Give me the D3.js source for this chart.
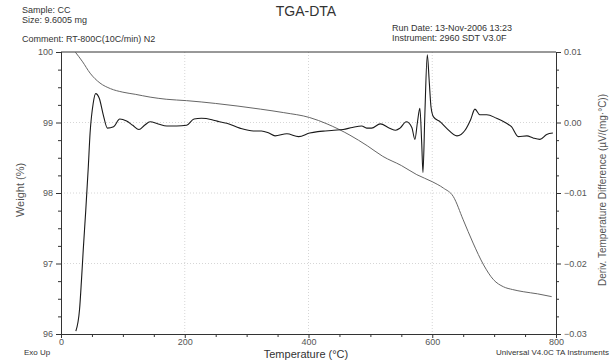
<!DOCTYPE html>
<html>
<head>
<meta charset="utf-8">
<script src="https://cdn.jsdelivr.net/npm/d3@7"></script>
<style>
  body { margin: 0; background: #fff; }
  text { font-family: "Liberation Sans", Arial, sans-serif; fill: #333; }
</style>
</head>
<body>
<div id="chart"></div>
<script>
// TGA weight curve (temperature in C, weight in %)
var weightTemp = [23, 35, 47, 63, 80, 100, 120, 144, 170, 203, 250, 322, 360, 402, 430, 467, 495, 520, 550, 575, 600, 618, 634, 650, 666, 683, 699, 715, 730, 747, 770, 793];
var weightPct = [100, 99.86, 99.70, 99.56, 99.48, 99.43, 99.40, 99.36, 99.33, 99.31, 99.27, 99.19, 99.14, 99.07, 98.98, 98.82, 98.67, 98.52, 98.39, 98.26, 98.16, 98.07, 97.95, 97.62, 97.29, 96.98, 96.77, 96.67, 96.63, 96.60, 96.57, 96.53];

// Deriv. temperature difference curve
var derivTemp = [24, 30, 33, 36, 40, 44, 47, 52, 56, 62, 68, 75, 85, 95, 106, 116, 126, 135, 144, 157, 171, 187, 203, 215, 227, 244, 256, 268, 289, 311, 324, 336, 346, 365, 384, 402, 415, 427, 441, 456, 471, 486, 494, 502, 516, 531, 541, 548, 558, 567, 572, 576, 580, 583, 585, 588, 592, 595, 598, 602, 613, 623, 640, 653, 662, 669, 677, 688, 704, 720, 728, 739, 753, 763, 774, 785, 795];
var derivVal = [-0.0296, -0.0265, -0.0225, -0.0180, -0.0125, -0.0065, -0.0015, 0.0027, 0.0041, 0.0034, 0.0012, -0.0008, -0.0006, 0.0005, 0.0002, -0.0004, -0.0010, -0.0004, 0.0001, -0.0002, -0.0005, -0.0005, -0.0004, 0.0005, 0.0006, 0.0004, 0.0001, -0.0001, -0.0008, -0.0012, -0.0012, -0.0015, -0.0019, -0.0016, -0.0020, -0.0015, -0.0013, -0.0012, -0.0011, -0.0010, -0.0007, -0.0005, -0.0008, -0.0008, -0.0002, -0.0008, -0.0011, -0.0008, 0.0001, -0.0007, -0.0024, 0.0000, 0.0020, -0.0030, -0.0071, 0.0010, 0.0096, 0.0060, 0.0022, 0.0008, 0.0001, -0.0008, -0.0019, -0.0011, 0.0004, 0.0019, 0.0011, 0.0011, 0.0006, -0.0001, -0.0006, -0.0020, -0.0019, -0.0022, -0.0024, -0.0017, -0.0015];

var tempTicks = [0, 200, 400, 600, 800];
var weightTicks = [96, 97, 98, 99, 100];
var derivTicks = [-0.03, -0.02, -0.01, 0.00, 0.01];

(function () {
  var width = 613,
    height = 360;
  var plotL = 61, plotR = 556, plotT = 52, plotB = 334;

  var svg = d3.select("#chart")
    .append("svg")
    .attr("width", width)
    .attr("height", height);

  var x = d3.scaleLinear().domain([0, 800]).range([plotL, plotR]);
  var yW = d3.scaleLinear().domain([96, 100]).range([plotB, plotT]);
  var yD = d3.scaleLinear().domain([-0.03, 0.01]).range([plotB, plotT]);

  // grid lines
  svg.selectAll(".vgrid")
    .data(tempTicks.slice(1, -1))
    .enter().append("line")
    .attr("x1", function (d) { return x(d); })
    .attr("x2", function (d) { return x(d); })
    .attr("y1", plotT).attr("y2", plotB)
    .attr("stroke", "#ccc").attr("stroke-dasharray", "1,2").attr("stroke-width", 0.8);

  svg.selectAll(".hgrid")
    .data(weightTicks.slice(1, -1))
    .enter().append("line")
    .attr("x1", plotL).attr("x2", plotR)
    .attr("y1", function (d) { return yW(d); })
    .attr("y2", function (d) { return yW(d); })
    .attr("stroke", "#ccc").attr("stroke-dasharray", "1,2").attr("stroke-width", 0.8);

  // top frame
  svg.append("line")
    .attr("x1", plotL).attr("x2", plotR).attr("y1", plotT).attr("y2", plotT)
    .attr("stroke", "#333").attr("stroke-width", 1);

  function styleAxis(g) {
    g.select(".domain").attr("stroke", "#333");
    g.selectAll("line").attr("stroke", "#333");
    g.selectAll("text").attr("font-size", "9px").style("fill", "#555");
  }

  function minorAxis(axis, scale, vals) {
    return axis(scale).tickValues(vals).tickSize(3).tickFormat("");
  }

  var tempMinor = d3.range(0, 801, 50).filter(function (d) { return d % 200 !== 0; });
  var wMinor = d3.range(96, 100.01, 0.25).filter(function (d) { return Math.abs(d - Math.round(d)) > 0.01; });
  var dMinor = d3.range(-0.03, 0.0101, 0.0025).filter(function (d) { return Math.abs(d * 100 - Math.round(d * 100)) > 0.01; });

  svg.append("g").attr("transform", "translate(0," + plotB + ")")
    .call(d3.axisBottom(x).tickValues(tempTicks).tickSize(4).tickPadding(1).tickFormat(d3.format("d")))
    .call(styleAxis);
  svg.append("g").attr("transform", "translate(0," + plotB + ")")
    .call(minorAxis(d3.axisBottom, x, tempMinor)).call(styleAxis);

  svg.append("g").attr("transform", "translate(" + plotL + ",0)")
    .call(d3.axisLeft(yW).tickValues(weightTicks).tickSize(5).tickFormat(d3.format("d")))
    .call(styleAxis);
  svg.append("g").attr("transform", "translate(" + plotL + ",0)")
    .call(minorAxis(d3.axisLeft, yW, wMinor)).call(styleAxis);

  svg.append("g").attr("transform", "translate(" + plotR + ",0)")
    .call(d3.axisRight(yD).tickValues(derivTicks).tickSize(5).tickFormat(d3.format(".2f")))
    .call(styleAxis);
  svg.append("g").attr("transform", "translate(" + plotR + ",0)")
    .call(minorAxis(d3.axisRight, yD, dMinor)).call(styleAxis);

  // curves
  var weightData = weightTemp.map(function (t, i) { return [t, weightPct[i]]; });
  var derivData = derivTemp.map(function (t, i) { return [t, derivVal[i]]; });

  svg.append("path")
    .datum(weightData)
    .attr("fill", "none")
    .attr("stroke", "#666")
    .attr("stroke-width", 1)
    .attr("d", d3.line()
      .x(function (d) { return x(d[0]); })
      .y(function (d) { return yW(d[1]); })
      .curve(d3.curveMonotoneX));

  svg.append("path")
    .datum(derivData)
    .attr("fill", "none")
    .attr("stroke", "#1a1a1a")
    .attr("stroke-width", 1.1)
    .attr("d", d3.line()
      .x(function (d) { return x(d[0]); })
      .y(function (d) { return yD(d[1]); })
      .curve(d3.curveMonotoneX));

  // header texts
  svg.append("text").attr("x", 306).attr("y", 16).attr("text-anchor", "middle")
    .attr("font-size", "14px").text("TGA-DTA");
  svg.append("text").attr("x", 22).attr("y", 13).attr("font-size", "9px").text("Sample: CC");
  svg.append("text").attr("x", 22).attr("y", 23).attr("font-size", "9px").text("Size:  9.6005 mg");
  svg.append("text").attr("x", 22).attr("y", 42).attr("font-size", "9px").text("Comment: RT-800C(10C/min) N2");
  svg.append("text").attr("x", 392).attr("y", 31).attr("font-size", "9px").text("Run Date: 13-Nov-2006 13:23");
  svg.append("text").attr("x", 392).attr("y", 41).attr("font-size", "9px").text("Instrument: 2960 SDT V3.0F");

  // axis titles
  svg.append("text").attr("transform", "translate(24,190) rotate(-90)")
    .attr("text-anchor", "middle").attr("font-size", "11px").style("fill", "#555").text("Weight (%)");
  svg.append("text").attr("transform", "translate(606,190) rotate(-90)")
    .attr("text-anchor", "middle").attr("font-size", "10px").style("fill", "#555")
    .text("Deriv. Temperature Difference (\u00b5V/(mg\u00b7\u00b0C))");
  svg.append("text").attr("x", 306).attr("y", 358).attr("text-anchor", "middle")
    .attr("font-size", "11px").text("Temperature (\u00b0C)");
  svg.append("text").attr("x", 24).attr("y", 355).attr("font-size", "8px").text("Exo Up");
  svg.append("text").attr("x", 609).attr("y", 355).attr("text-anchor", "end")
    .attr("font-size", "8px").text("Universal V4.0C TA Instruments");
})();
</script>
</body>
</html>
